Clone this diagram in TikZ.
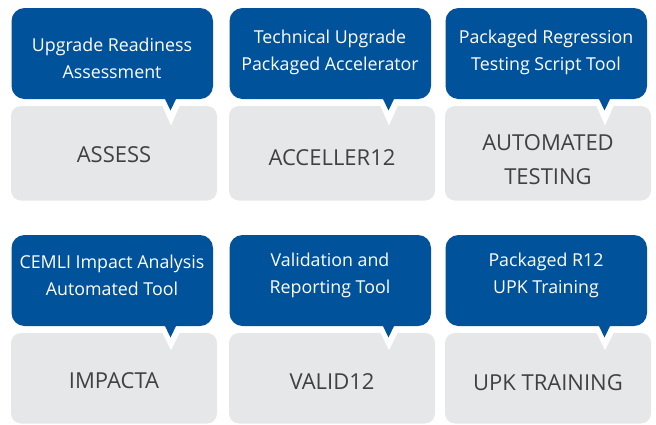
\documentclass[tikz,border=0pt]{standalone}
\usepackage{fontspec}
\setmainfont{Open Sans}
\definecolor{tealblue}{RGB}{0,82,155}
\definecolor{panelgrey}{RGB}{230,231,232}
\definecolor{labelgrey}{RGB}{65,64,66}
\tikzset{
  bluebox/.style={fill=tealblue, rounded corners=13pt},
  greybox/.style={fill=panelgrey, rounded corners=10pt},
  bluetext/.style={text=white, font=\fontsize{17.8}{27}\selectfont, align=center, inner sep=0pt},
  greytext/.style={text=labelgrey, font=\fontsize{22}{34}\selectfont, align=center, inner sep=0pt},
}
\begin{document}
\begin{tikzpicture}[x=1pt, y=-1pt]
\useasboundingbox (0,0) rectangle (656,424);
% cells: left x, top y, grey bottom, white apex offset, blue text y, blue text, grey text y, grey text, name
\foreach \L/\T/\B/\A/\ty/\btext/\gy/\gtext/\n in {
  11/8/200.5/117.5/58.5/{Upgrade Readiness\\Assessment}/155/{ASSESS}/a,
  229/8/200.5/117.5/52.5/{Technical Upgrade\\Packaged Accelerator}/158/{ACCELLER12}/b,
  445/8/200.5/117.5/52.5/{Packaged Regression\\Testing Script Tool}/160/{AUTOMATED\\TESTING}/c,
  11/235/423.5/115/275/{CEMLI Impact Analysis\\Automated Tool}/381/{IMPACTA}/d,
  229/235/423.5/115/275/{Validation and\\Reporting Tool}/382/{VALID12}/e,
  445/235/423.5/115/275/{Packaged R12\\UPK Training}/383/{UPK TRAINING}/f}
{
  \path[greybox] (\L,\T+98) rectangle (\L+206,\B);
  \coordinate (\n-wl) at (\L+150.5,\T+96);
  \coordinate (\n-wr) at (\L+169.5,\T+96);
  \coordinate (\n-wa) at (\L+160,\T+\A);
  \fill[white] (\n-wl) -- (\n-wr) -- (\n-wa) -- cycle;
  \path[bluebox] (\L+0.5,\T) rectangle (\L+202,\T+91);
  \coordinate (\n-bl) at (\L+153.5,\T+90);
  \coordinate (\n-br) at (\L+165.5,\T+90);
  \coordinate (\n-ba) at (\L+159.5,\T+102.5);
  \fill[tealblue] (\n-bl) -- (\n-br) -- (\n-ba) -- cycle;
  \node[bluetext] (\n-title) at (\L+101,\ty) {\btext};
  \node[greytext] (\n-label) at (\L+103,\gy) {\gtext};
}
\end{tikzpicture}
\end{document}
